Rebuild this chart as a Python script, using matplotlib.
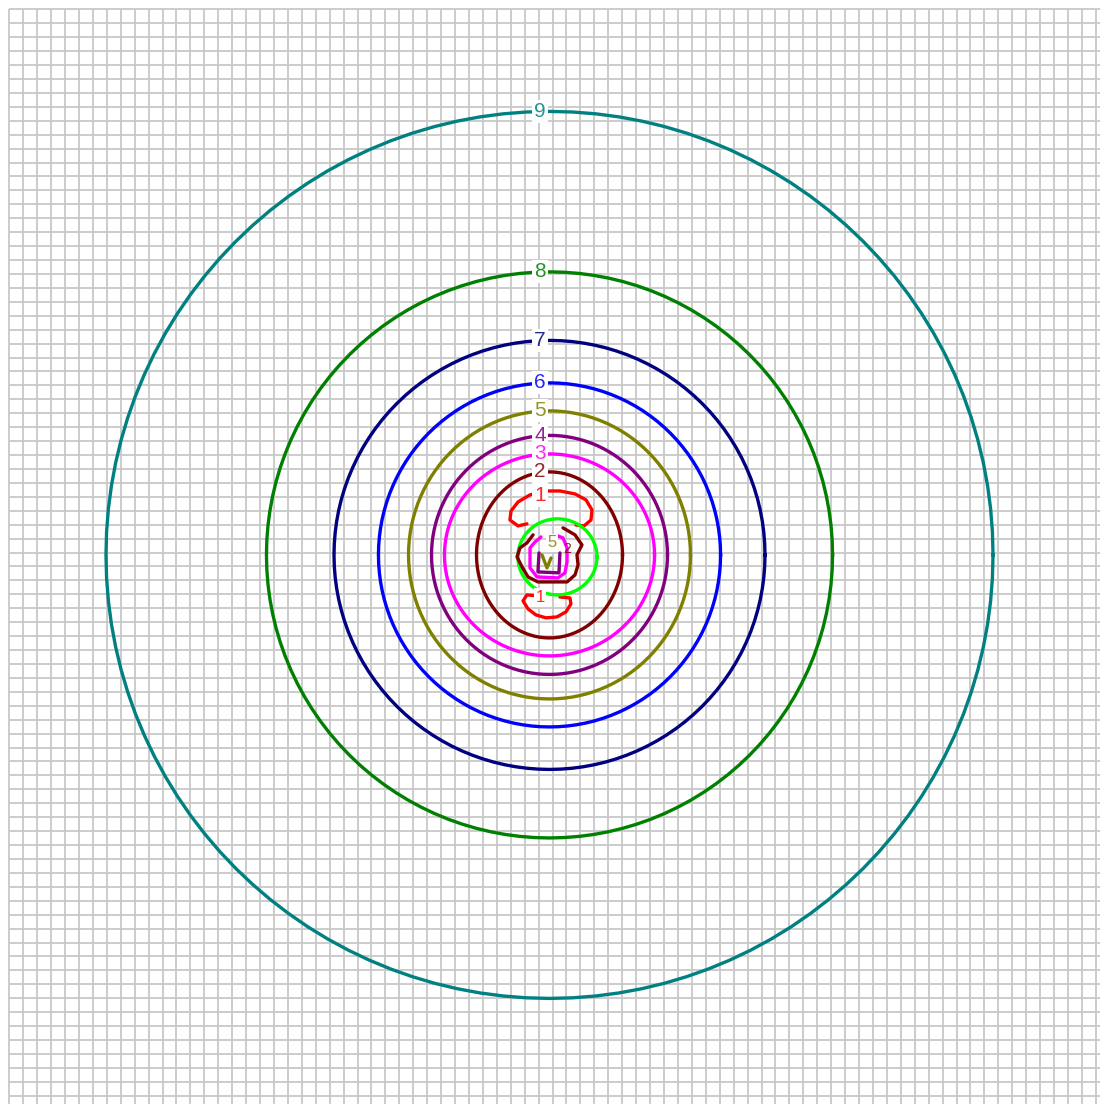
import numpy as np
import matplotlib
matplotlib.use('Agg')
import matplotlib.pyplot as plt

# contour levels drawn as closed rings around the source (units: grid cells)
LEVELS = ['9', '8', '7', '6', '5', '4', '3', '2']
COLORS = ['#008080', '#008000', '#000080', '#0000ff', '#808000', '#800080', '#ff00ff', '#800000']
RADIUS_X = [31.84, 20.32, 15.47, 12.28, 10.12, 8.47, 7.54, 5.24]
RADIUS_Y = [31.84, 20.32, 15.40, 12.35, 10.34, 8.58, 7.25, 5.96]

CENTER = (38.78, 39.17)
N_CELLS = 78

# level 1 splits into two lobes above and below the source
LOBE_TOP = [(-1.62, -2.23), (-2.26, -2.08), (-2.84, -2.51), (-2.76, -3.16), (-2.26, -3.80),
            (-1.40, -4.31), (-0.32, -4.59), (0.75, -4.59), (1.83, -4.38), (2.62, -3.95),
            (3.05, -3.23), (2.98, -2.51), (2.48, -2.08), (1.90, -2.15)]
LOBE_BOTTOM = [(-0.83, 2.94), (-1.62, 2.87), (-1.90, 3.30), (-1.54, 3.88), (-0.97, 4.31),
               (-0.25, 4.52), (0.54, 4.45), (1.18, 4.09), (1.54, 3.52), (1.47, 3.09),
               (0.75, 3.02)]

# inner contours right at the source
INNER_RING = (0.57, 0.14, 2.84, 2.73)   # dx, dy, rx, ry
INNER_MAROON = [(-1.18, -1.44), (-1.62, -0.86), (-2.12, -0.50), (-2.33, 0.14), (-1.97, 0.86),
                (-1.54, 1.58), (-0.83, 1.94), (0.39, 1.94), (1.26, 1.94), (1.83, 1.44),
                (2.05, 0.72), (1.97, 0.00), (2.33, -0.72), (1.83, -1.44), (0.97, -1.94)]
INNER_MAGENTA = [(-0.61, -1.29), (-1.04, -0.93), (-1.40, -0.50), (-1.40, 0.93), (-0.90, 1.58),
                 (0.61, 1.65), (1.11, 1.29), (1.26, 0.50), (1.26, -0.50), (0.97, -1.22),
                 (0.61, -1.36)]
INNER_PURPLE = [(-0.75, -0.14), (-0.83, 1.22), (0.68, 1.29), (0.75, -0.14)]
INNER_OLIVE = [(-0.54, 0.00), (-0.18, 0.93), (0.11, 0.22)]

LABEL_DX = -0.68
LW = 2.4
FONT = ['Liberation Sans', 'DejaVu Sans']


def label(ax, x, y, text, color, size=15, box=True):
    bbox = dict(boxstyle='square,pad=0.1', fc='white', ec='none') if box else None
    ax.text(x, y, text, color=color, fontsize=size, family=FONT, alpha=0.85,
            ha='center', va='center', bbox=bbox, zorder=5)


def draw_path(ax, pts, color, closed=False):
    pts = np.array(pts)
    if closed:
        pts = np.vstack([pts, pts[:1]])
    ax.plot(CENTER[0] + pts[:, 0], CENTER[1] + pts[:, 1], color=color, lw=LW,
            solid_joinstyle='round', solid_capstyle='round', zorder=3)


fig = plt.figure(figsize=(11, 11.04), dpi=100)
ax = fig.add_axes([0, 0, 1, 1])
ax.set_xlim(-0.668, 78.30)
ax.set_ylim(78.59, -0.668)
ax.axis('off')

# background grid
ticks = np.arange(0, N_CELLS + 2)
ax.vlines(ticks, 0, 80, color='#c8c8c8', lw=1.3, zorder=1)
ax.hlines(ticks, 0, 80, color='#c8c8c8', lw=1.3, zorder=1)

# outer rings
theta = np.linspace(0, 2 * np.pi, 121)
for lev, col, rx, ry in zip(LEVELS, COLORS, RADIUS_X, RADIUS_Y):
    ax.plot(CENTER[0] + rx * np.cos(theta), CENTER[1] + ry * np.sin(theta),
            color=col, lw=LW, zorder=3)
    label(ax, CENTER[0] + LABEL_DX, CENTER[1] - ry, lev, col)

# level 1 lobes
draw_path(ax, LOBE_TOP, '#ff0000')
draw_path(ax, LOBE_BOTTOM, '#ff0000')
label(ax, CENTER[0] + LABEL_DX, CENTER[1] - 4.30, '1', '#ff0000')
label(ax, CENTER[0] + LABEL_DX, CENTER[1] + 3.05, '1', '#ff0000', size=12)

# innermost contours
dx, dy, rx, ry = INNER_RING
ax.plot(CENTER[0] + dx + rx * np.cos(theta), CENTER[1] + dy + ry * np.sin(theta),
        color='#00ff00', lw=LW, zorder=3)
draw_path(ax, INNER_MAROON, '#800000')
draw_path(ax, INNER_MAGENTA, '#ff00ff')
draw_path(ax, INNER_PURPLE, '#800080')
draw_path(ax, INNER_OLIVE, '#808000')
label(ax, CENTER[0] + 0.18, CENTER[1] - 0.86, '5', '#808000', size=12)
label(ax, CENTER[0] + 1.26, CENTER[1] - 0.43, '2', '#800000', size=10, box=False)

fig.savefig('out.png', dpi=100, facecolor='white')
